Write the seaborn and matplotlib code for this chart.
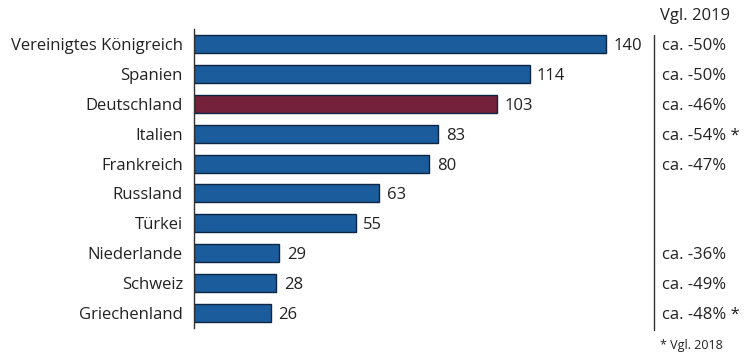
import matplotlib
matplotlib.use('Agg')
import matplotlib.pyplot as plt
import pandas as pd
import seaborn as sns

countries = ['Vereinigtes Königreich', 'Spanien', 'Deutschland', 'Italien',
             'Frankreich', 'Russland', 'Türkei', 'Niederlande', 'Schweiz',
             'Griechenland']
values = [140, 114, 103, 83, 80, 63, 55, 29, 28, 26]
changes = ['ca. -50%', 'ca. -50%', 'ca. -46%', 'ca. -54% *', 'ca. -47%',
           '', '', 'ca. -36%', 'ca. -49%', 'ca. -48% *']
col_title = 'Vgl. 2019'
footnote = '* Vgl. 2018'

blue = '#1b5c9c'
red = '#74223b'
edge = '#0c2644'
txt = '#222222'
fs = 12

sns.set_theme(style='white')
plt.rcParams['font.family'] = ['Open Sans', 'DejaVu Sans']

df = pd.DataFrame({'country': countries, 'value': values})
palette = {c: (red if c == 'Deutschland' else blue) for c in countries}

fig = plt.figure(figsize=(7.56, 3.6), dpi=100)
ax = fig.add_axes([194 / 756, 32 / 360, 150 * 2.943 / 756, 299 / 360])
sns.barplot(data=df, x='value', y='country', hue='country', palette=palette,
            legend=False, width=0.6, edgecolor=edge, linewidth=1.0,
            saturation=1, ax=ax)
ax.set_xlim(0, 150)
ax.set_ylim(9.5, -0.5)
ax.set_xlabel('')
ax.set_ylabel('')
ax.set_xticks([])
for s in ['top', 'right', 'bottom']:
    ax.spines[s].set_visible(False)
ax.spines['left'].set_color('#333333')
ax.spines['left'].set_linewidth(1.0)
ax.tick_params(axis='y', length=0, pad=8, labelsize=fs, labelcolor=txt)

for i, v in enumerate(values):
    ax.text(v + 2.5, i, str(v), va='center_baseline', ha='left', fontsize=fs,
            color=txt)

# right column with change vs 2019
for i, c in enumerate(changes):
    ax.annotate(c, xy=(662 / 756, i), xycoords=('figure fraction', 'data'),
                va='center_baseline', ha='left', fontsize=fs, color=txt)
fig.text(660 / 756, 1 - 14 / 360, col_title, va='center_baseline', ha='left',
         fontsize=fs, color=txt)
fig.text(660 / 756, 1 - 344 / 360, footnote, va='center_baseline', ha='left',
         fontsize=9, color=txt)
fig.add_artist(plt.Line2D([654 / 756, 654 / 756], [1 - 35 / 360, 1 - 330 / 360],
                          color='#333333', lw=1.0))

fig.savefig('out.png', dpi=100)
